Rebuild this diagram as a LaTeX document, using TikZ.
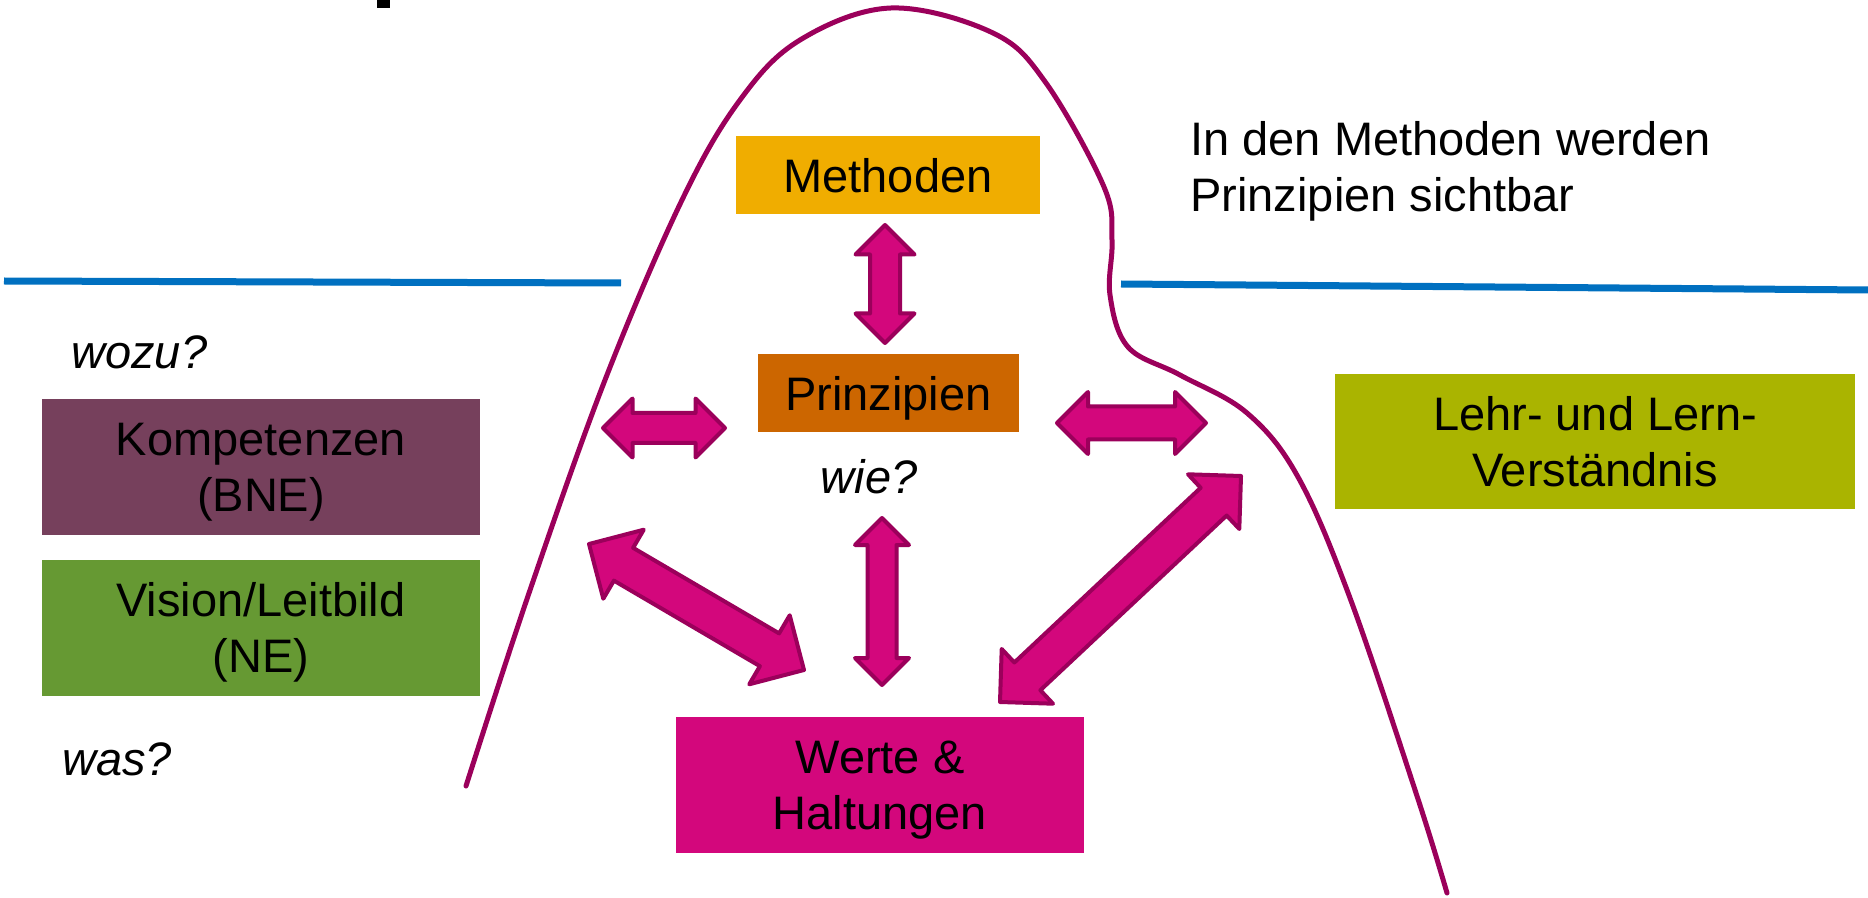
\documentclass[tikz,border=0pt]{standalone}
\usepackage{fontspec}
\setmainfont{Liberation Sans}
\usetikzlibrary{shapes.arrows,calc,positioning}

\definecolor{methgelb}{HTML}{F0AD00}
\definecolor{prinorange}{HTML}{CC6600}
\definecolor{kompviolett}{HTML}{76405C}
\definecolor{visiongruen}{HTML}{669933}
\definecolor{wertepink}{HTML}{D3077C}
\definecolor{lehroliv}{HTML}{AAB400}
\definecolor{randrot}{HTML}{9B005B}
\definecolor{linienblau}{HTML}{0070C0}

\newcommand{\diagfont}{\fontsize{23.5pt}{28pt}\selectfont}

\tikzset{
  box/.style={rectangle, inner sep=0pt, align=center, text depth=0pt, font=\diagfont},
  frage/.style={inner sep=0pt, font=\diagfont\itshape},
  fatarrow/.style={double arrow, draw=randrot, fill=wertepink, line width=2pt,
                   line join=round, inner sep=0pt}
}

% fat double arrow between two points: from, to, options, name
\newcommand{\fatlink}[4]{%
  \path let \p1=($(#2)-(#1)$), \n1={veclen(\x1,\y1)} in
    (#1) -- (#2) node (#4) [fatarrow, midway, sloped, minimum height=\n1, #3] {};}

\begin{document}
\begin{tikzpicture}[x=0.5pt,y=-0.5pt]
    \useasboundingbox (0,0) rectangle (1868,898);

    % Hill
    \draw [randrot, line width=2.5pt, line cap=round] plot [smooth, tension=0.6] coordinates {
        (466,786) (528,596) (605,380) (682,200) (740,100) (800,40)
        (891,8) (993,33) (1046,83) (1104,187) (1112,240) (1110,295)
        (1128,347) (1180,375) (1247,413) (1298,477) (1350,598)
        (1417,796) (1447,893)};

    % Water lines
    \draw [linienblau, line width=3.5pt] (4,281) -- (621,283);
    \draw [linienblau, line width=3.5pt] (1121,284) -- (1868,290);
    \fill (377,0) rectangle (390,8);

    % Blocks
    \node [box, fill=methgelb, minimum width=152pt, minimum height=39pt] (meth) at (888,175) {Methoden};
    \node [box, fill=prinorange, minimum width=130.5pt, minimum height=39pt] (prin) at (888.5,393) {Prinzipien};
    \node [box, fill=wertepink, minimum width=204pt, minimum height=68pt] (werte) at (880,785) {Werte \&\\Haltungen};
    \node [box, fill=lehroliv, minimum width=260pt, minimum height=67.5pt] (lehr) at (1595,441.5) {Lehr- und Lern-\\Verständnis};
    \node [box, fill=kompviolett, minimum width=219pt, minimum height=68pt] (komp) at (261,467) {Kompetenzen\\(BNE)};
    \node [box, fill=visiongruen, minimum width=219pt, minimum height=68pt, below=12pt of komp] (vision) {Vision/Leitbild\\(NE)};

    % Labels
    \node [frage, anchor=base west] (wozu) at (71,369) {wozu?};
    \node [frage, anchor=base west] (was) at (62,775) {was?};
    \node [frage, anchor=base] (wie) at (869,493) {wie?};
    \node [inner sep=0pt, anchor=north west, align=left, font=\diagfont] (sichtbar) at (1190,121)
        {In den Methoden werden\\Prinzipien sichtbar};

    % Arrows
    \coordinate (a1) at (885,225);  \coordinate (b1) at (885,343);
    \coordinate (a2) at (603,428);  \coordinate (b2) at (725,428);
    \coordinate (a3) at (1057,423); \coordinate (b3) at (1206,423);
    \coordinate (a4) at (882,518);  \coordinate (b4) at (882,685);
    \coordinate (a5) at (589,544);  \coordinate (b5) at (804,670);
    \coordinate (a6) at (1000,702); \coordinate (b6) at (1241,476);

    \fatlink{a1}{b1}{minimum width=27.5pt, inner ysep=6.5pt, double arrow head extend=7.25pt}{methprin}
    \fatlink{a2}{b2}{minimum width=27.5pt, inner ysep=6.5pt, double arrow head extend=7.25pt}{links}
    \fatlink{a3}{b3}{minimum width=29pt, inner ysep=7.25pt, double arrow head extend=7.25pt}{rechts}
    \fatlink{a4}{b4}{minimum width=25pt, inner ysep=6.25pt, double arrow head extend=6.25pt}{wiewerte}
    \fatlink{a5}{b5}{minimum width=38pt, inner ysep=8.5pt, double arrow head extend=10.5pt}{linkswerte}
    \fatlink{a6}{b6}{minimum width=35.5pt, inner ysep=8.5pt, double arrow head extend=9.25pt}{rechtswerte}
\end{tikzpicture}
\end{document}
